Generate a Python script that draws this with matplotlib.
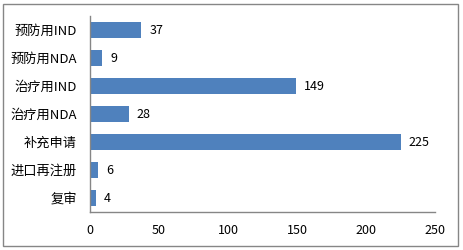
import matplotlib
matplotlib.use("Agg")
import matplotlib.pyplot as plt
from matplotlib.patches import Rectangle

plt.rcParams['font.family'] = ['Noto Sans CJK SC', 'DejaVu Sans']

# 数据
categories = ["预防用IND", "预防用NDA", "治疗用IND", "治疗用NDA", "补充申请", "进口再注册", "复审"]
values = [37, 9, 149, 28, 225, 6, 4]
xticks = [0, 50, 100, 150, 200, 250]

fig = plt.figure(figsize=(4.64, 2.5), dpi=100)
ax = fig.add_axes([90 / 464, 1 - 212 / 250, 345 / 464, 196 / 250])

pos = list(range(len(categories)))[::-1]
ax.barh(pos, values, height=0.58, color="#4F81BD")
for p, v in zip(pos, values):
    ax.text(v + 6, p, str(v), va="center", ha="left", fontsize=9, color="black")

ax.set_xlim(0, 250)
ax.set_ylim(-0.5, len(categories) - 0.5)
ax.set_yticks(pos)
ax.set_yticklabels(categories, fontsize=9.5)
ax.set_xticks(xticks)
ax.set_xticklabels([str(t) for t in xticks], fontsize=9)
ax.tick_params(axis="both", length=0)
ax.tick_params(axis="x", pad=9)
ax.tick_params(axis="y", pad=9.5)

for s in ["top", "right"]:
    ax.spines[s].set_visible(False)
for s in ["left", "bottom"]:
    ax.spines[s].set_color("#868686")
    ax.spines[s].set_linewidth(1)

# 外框
fig.patches.append(Rectangle((3 / 464, 4 / 250), 455 / 464, 242 / 250,
                             transform=fig.transFigure, fill=False,
                             edgecolor="#868686", linewidth=1))

plt.savefig("out.png", dpi=100)
